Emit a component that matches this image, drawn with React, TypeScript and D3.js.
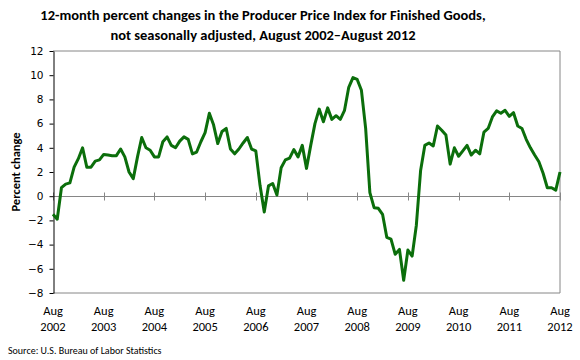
import React, { useEffect, useRef } from 'react';
import * as d3 from 'd3';

// 12-month % change, Aug 2002 .. Aug 2012 (monthly)
const values: number[] = [
  -1.5, -1.9, 0.7, 1.0, 1.1, 2.4, 3.1, 4.0, 2.4, 2.4, 2.9, 3.0,
  3.45, 3.4, 3.35, 3.35, 3.9, 3.25, 2.0, 1.45, 3.25, 4.85, 4.0, 3.8,
  3.25, 3.25, 4.5, 4.9, 4.2, 4.0, 4.55, 4.9, 4.7, 3.5, 3.65, 4.5,
  5.25, 6.85, 5.9, 4.35, 5.35, 5.6, 3.9, 3.5, 3.9, 4.4, 4.85, 3.9,
  3.75, 0.9, -1.3, 0.85, 1.05, 0.1, 2.35, 3.0, 3.15, 3.85, 3.25, 4.2,
  2.3, 4.2, 6.0, 7.2, 6.15, 7.3, 6.35, 6.65, 6.35, 7.1, 9.0, 9.8,
  9.65, 8.75, 5.6, 0.3, -0.95, -1.0, -1.5, -3.4, -3.55, -4.8, -4.4, -6.95,
  -4.45, -4.95, -2.4, 2.1, 4.2, 4.4, 4.15, 5.8, 5.45, 5.05, 2.65, 4.0,
  3.3, 3.75, 4.2, 3.4, 3.8, 3.5, 5.3, 5.6, 6.55, 7.05, 6.85, 7.1,
  6.6, 6.9, 5.8, 5.6, 4.7, 4.0, 3.4, 2.85, 1.9, 0.7, 0.7, 0.5,
  2.0,
];
const years = ['2002', '2003', '2004', '2005', '2006', '2007', '2008', '2009', '2010', '2011', '2012'];
const yTicks = [-8, -6, -4, -2, 0, 2, 4, 6, 8, 10, 12];

const W = 580;
const H = 360;
const margin = { top: 51, right: 20, bottom: 67, left: 53 };

export default function App() {
  const svgRef = useRef<SVGSVGElement>(null);

  useEffect(() => {
    const svg = d3.select(svgRef.current);
    svg.selectAll('*').remove();

    const x = d3.scaleLinear()
      .domain([0, values.length - 1])
      .range([margin.left, W - margin.right]);
    const y = d3.scaleLinear()
      .domain([-8, 12])
      .range([H - margin.bottom, margin.top]);

    svg.append('rect').attr('width', W).attr('height', H).attr('fill', '#fff');

    // title
    const title = svg.append('g')
      .attr('font-family', 'Carlito, Calibri, Lato, sans-serif')
      .attr('font-weight', 'bold')
      .attr('font-size', 14.5)
      .attr('text-anchor', 'middle')
      .attr('fill', '#000');
    title.append('text').attr('x', 263).attr('y', 20)
      .text('12-month percent changes in the Producer Price Index for Finished Goods,');
    title.append('text').attr('x', 263).attr('y', 40)
      .text('not seasonally adjusted, August 2002\u2013August 2012');

    // plot border (gray)
    const x0 = margin.left, x1 = W - margin.right;
    const yTop = y(12), yBot = y(-8);
    svg.append('path')
      .attr('d', `M${x0},${yTop}H${x1}V${yBot}H${x0}`)
      .attr('fill', 'none')
      .attr('stroke', '#868686')
      .attr('stroke-width', 1);

    // zero line with year ticks
    svg.append('line')
      .attr('x1', x0).attr('x2', x1)
      .attr('y1', Math.round(y(0)) + 0.5).attr('y2', Math.round(y(0)) + 0.5)
      .attr('stroke', '#868686');
    years.forEach((yr, i) => {
      const px = Math.round(x(i * 12)) + 0.5;
      svg.append('line')
        .attr('x1', px).attr('x2', px)
        .attr('y1', Math.round(y(0)) - 3.5).attr('y2', Math.round(y(0)) + 4.5)
        .attr('stroke', '#868686');
    });

    // y axis
    const yAxis = svg.append('g')
      .attr('transform', `translate(${x0 + 0.5},0)`)
      .call(d3.axisLeft(y).tickValues(yTicks).tickSize(4).tickSizeOuter(0).tickPadding(6));
    yAxis.select('.domain').attr('stroke', '#000');
    yAxis.selectAll('line').attr('stroke', '#000');
    yAxis.selectAll('text')
      .attr('font-family', 'DejaVu Sans, Verdana, sans-serif')
      .attr('font-size', 10.5)
      .attr('fill', '#000');

    svg.append('text')
      .attr('transform', `translate(20,${(yTop + yBot) / 2}) rotate(-90)`)
      .attr('text-anchor', 'middle')
      .attr('font-family', 'Carlito, Calibri, Lato, sans-serif')
      .attr('font-weight', 'bold')
      .attr('font-size', 12.5)
      .text('Percent change');

    // x labels
    const xl = svg.append('g')
      .attr('font-family', 'Carlito, Calibri, Lato, sans-serif')
      .attr('font-size', 12.5)
      .attr('text-anchor', 'middle')
      .attr('fill', '#000');
    years.forEach((yr, i) => {
      xl.append('text').attr('x', x(i * 12)).attr('y', 315).text('Aug');
      xl.append('text').attr('x', x(i * 12)).attr('y', 331).text(yr);
    });

    // line
    const line = d3.line<number>()
      .x((d, i) => x(i))
      .y(d => y(d));
    svg.append('path')
      .datum(values)
      .attr('d', line)
      .attr('fill', 'none')
      .attr('stroke', '#0b6e0b')
      .attr('stroke-width', 3)
      .attr('stroke-linejoin', 'round');

    svg.append('text')
      .attr('x', 8).attr('y', 354)
      .attr('font-family', 'Carlito, Calibri, Lato, sans-serif')
      .attr('font-size', 10)
      .text('Source: U.S. Bureau of Labor Statistics');
  }, []);

  return (
    <svg ref={svgRef} width={W} height={H}
      style={{ position: 'absolute', left: 0, top: 0, display: 'block' }} />
  );
}
